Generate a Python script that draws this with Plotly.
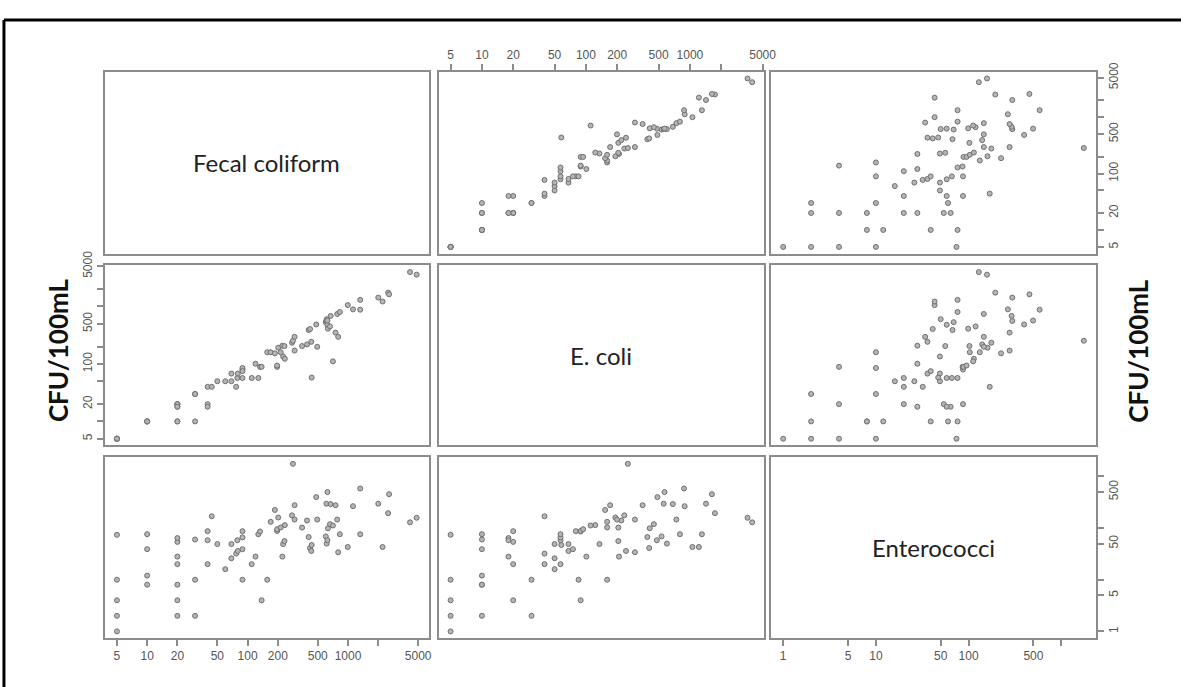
import numpy as np
import plotly.graph_objects as go

# ---- data (one entry per water sample, CFU/100mL) ----
fc = [5, 5, 5, 5, 5,
      10, 10, 10, 10,
      20, 20, 20, 20, 20, 20, 20,
      30, 30, 30,
      40, 40, 40, 44, 50, 60, 69, 69,
      77, 79, 80, 89, 89, 89, 89, 110, 120, 128,
      133, 138, 157, 170, 187, 197, 197, 202, 214, 222,
      226, 233, 235, 277, 283, 294, 294, 349, 391, 406,
      419, 431, 435, 483, 494, 601, 610, 614, 624, 624,
      632, 662, 672, 708, 752, 781, 799, 830, 995, 1122,
      1324, 1324, 2003, 2210, 2511, 2567, 4150, 4830]
ec = [5, 5, 5, 5, 5,
      10, 10, 10, 10,
      10, 20, 10, 20, 18, 20, 18,
      30, 30, 10,
      20, 18, 40, 40, 50, 50, 50, 68,
      40, 57, 68, 80, 85, 57, 75, 57, 101, 57,
      89, 89, 160, 160, 153, 89, 94, 192, 160, 208,
      135, 205, 123, 234, 253, 171, 296, 205, 219, 390,
      406, 243, 58, 487, 199, 534, 560, 601, 481, 570,
      411, 450, 685, 111, 351, 741, 296, 802, 1057, 891,
      1304, 879, 1428, 1220, 1740, 1628, 3970, 3580]
ent = [1, 2, 4, 10, 74,
       8, 12, 39, 76,
       2, 4, 8, 20, 28, 54, 64,
       2, 10, 60,
       87, 58, 20, 169, 49, 16, 26, 49,
       32, 58, 36, 87, 10, 66, 39, 20, 28, 76,
       86, 4, 10, 132, 224, 88, 95, 160, 103, 28,
       49, 56, 114, 176, 1750, 277, 146, 102, 140, 67,
       41, 36, 47, 397, 146, 69, 296, 50, 58, 496,
       99, 119, 291, 112, 277, 146, 34, 76, 43, 265,
       76, 584, 296, 43, 194, 453, 129, 158]

var_names = ["Fecal coliform", "E. coli", "Enterococci"]
unit_label = "CFU/100mL"

big_ticks = [5, 10, 20, 50, 100, 200, 500, 1000, 2000, 5000]
big_text_h = ["5", "10", "20", "50", "100", "200", "500", "1000", "", "5000"]
big_text_v = ["5", "", "20", "", "100", "", "500", "", "", "5000"]
ent_ticks = [1, 5, 10, 50, 100, 500, 1000]
ent_text_h = ["1", "5", "10", "50", "100", "500", ""]
ent_text_v = ["1", "5", "", "50", "", "500", ""]

data = [fc, ec, ent]
ticks = [(big_ticks, big_text_h, big_text_v),
         (big_ticks, big_text_h, big_text_v),
         (ent_ticks, ent_text_h, ent_text_v)]

# ---- layout geometry (pixels) ----
W, H = 1193, 687
cols_px = [(106, 433), (443, 772), (779, 1107)]
rows_px = [(58, 244), (256, 440), (452, 637)]


def px_x(x):
    return x / W


def px_y(y):
    return 1 - y / H


def log_range(v):
    lo, hi = np.log10(min(v)), np.log10(max(v))
    pad = 0.04 * (hi - lo)
    return [lo - pad, hi + pad]


ranges = [log_range(v) for v in data]

BOX = "#8c8c8c"
TICKFONT = dict(family="Liberation Sans Narrow, Liberation Sans, Arial", size=12, color="#555555")

fig = go.Figure()
layout = {}
annotations = []

for i in range(3):
    for j in range(3):
        k = i * 3 + j + 1
        xa = f"xaxis{k}" if k > 1 else "xaxis"
        ya = f"yaxis{k}" if k > 1 else "yaxis"
        xref = f"x{k}" if k > 1 else "x"
        yref = f"y{k}" if k > 1 else "y"

        show_x = (i == 0 and j == 1) or (i == 2 and j in (0, 2))
        show_y = (j == 0 and i == 1) or (j == 2 and i in (0, 2))

        xt = ticks[j]
        yt = ticks[i]
        layout[xa] = dict(
            type="log", range=ranges[j], anchor=yref,
            domain=[px_x(cols_px[j][0]), px_x(cols_px[j][1])],
            showgrid=False, zeroline=False,
            showline=True, mirror=True, linecolor=BOX, linewidth=2,
            ticks="outside" if show_x else "", ticklen=6, tickcolor=BOX, tickwidth=1.5,
            tickvals=xt[0], ticktext=xt[1], showticklabels=show_x,
            side="top" if i == 0 else "bottom",
            tickfont=TICKFONT, fixedrange=True,
        )
        layout[ya] = dict(
            type="log", range=ranges[i], anchor=xref,
            domain=[px_y(rows_px[i][1]), px_y(rows_px[i][0])],
            showgrid=False, zeroline=False,
            showline=True, mirror=True, linecolor=BOX, linewidth=2,
            ticks="outside" if show_y else "", ticklen=6, tickcolor=BOX, tickwidth=1.5,
            tickvals=yt[0], ticktext=yt[2], showticklabels=show_y,
            side="left" if j == 0 else "right",
            tickangle=-90, tickfont=TICKFONT, fixedrange=True,
        )

        if i == j:
            # empty trace so the diagonal panel's box and axes are drawn
            fig.add_trace(go.Scatter(
                x=[], y=[], mode="markers", xaxis=xref, yaxis=yref,
                showlegend=False, hoverinfo="skip",
            ))
            annotations.append(dict(
                text=var_names[i], xref=f"{xref} domain", yref=f"{yref} domain",
                x=0.5, y=0.5, showarrow=False,
                font=dict(family="Lato, Open Sans, sans-serif", size=24, color="#222222"),
            ))
        else:
            fig.add_trace(go.Scatter(
                x=data[j], y=data[i], mode="markers",
                xaxis=xref, yaxis=yref, showlegend=False, hoverinfo="x+y",
                marker=dict(symbol="circle", size=5, color="#b4b4b4",
                            line=dict(color="#707070", width=1)),
            ))

for xpos in (40, 1167):
    annotations.append(dict(
        text=f"<b>{unit_label}</b>", xref="paper", yref="paper",
        x=px_x(xpos), y=px_y(343), showarrow=False, textangle=-90,
        font=dict(family="Lato, Open Sans, sans-serif", size=26, color="#111111"),
    ))

shapes = [
    dict(type="line", xref="paper", yref="paper", x0=px_x(4), x1=1.0, y0=px_y(5), y1=px_y(5),
         line=dict(color="black", width=3)),
    dict(type="line", xref="paper", yref="paper", x0=px_x(4), x1=px_x(4), y0=px_y(5), y1=0.0,
         line=dict(color="black", width=3)),
]

fig.update_layout(
    width=W, height=H, margin=dict(l=0, r=0, t=0, b=0),
    paper_bgcolor="white", plot_bgcolor="white",
    annotations=annotations, shapes=shapes, showlegend=False,
    **layout,
)

fig.write_html("out.html", config={"displayModeBar": False},
               post_script="document.body.style.margin='0';")
